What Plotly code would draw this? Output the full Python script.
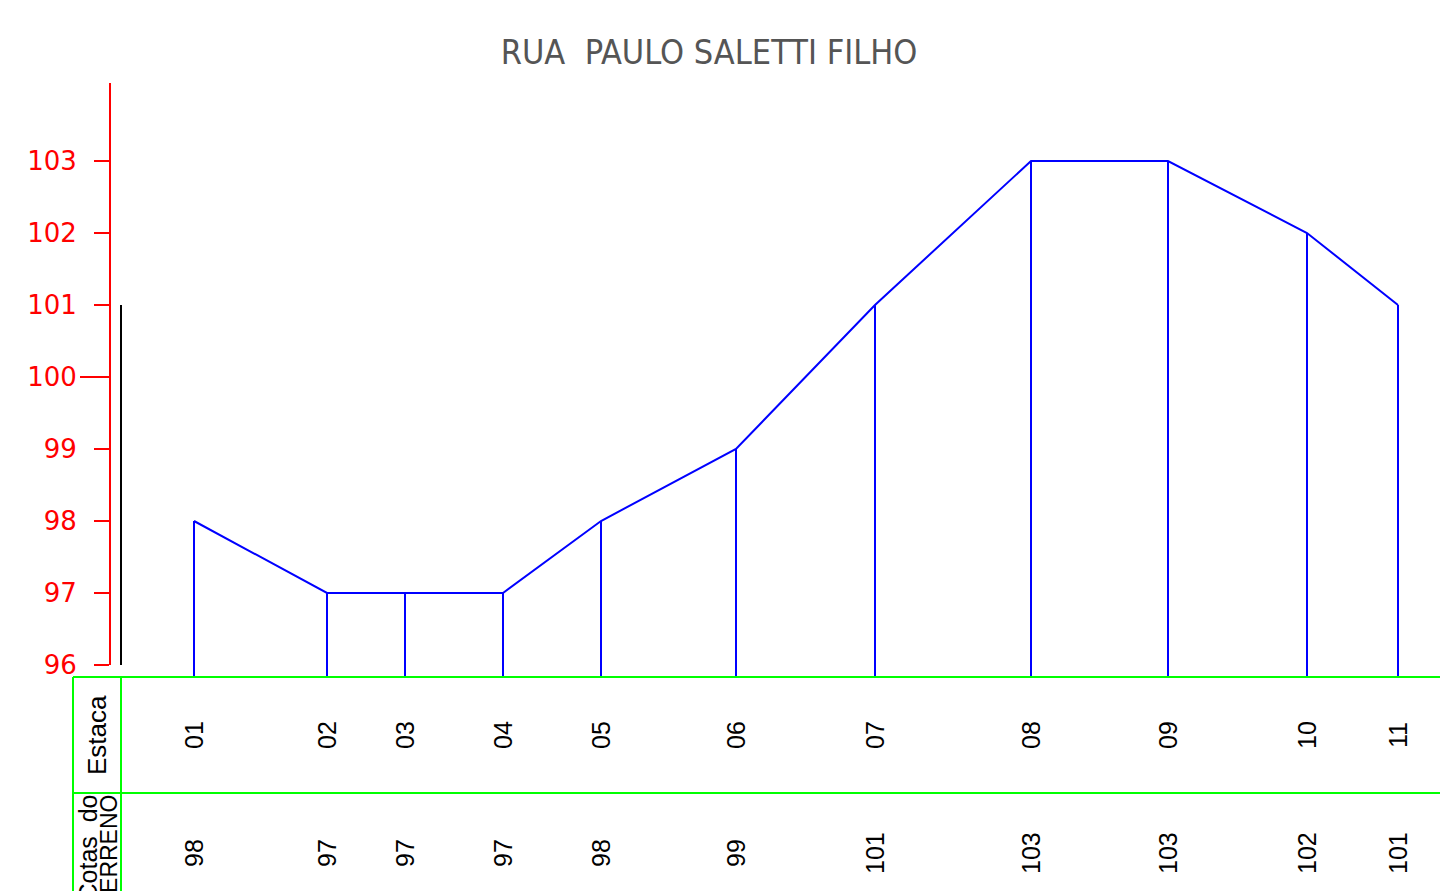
import plotly.graph_objects as go

# ---- data ----
estacas = ["01", "02", "03", "04", "05", "06", "07", "08", "09", "10", "11"]
posicao = [0, 133, 211, 309, 407, 542, 681, 837, 974, 1113, 1204]   # horizontal position along the road (drawing units)
cotas = [98, 97, 97, 97, 98, 99, 101, 103, 103, 102, 101]          # terrain elevation
y_ticks = [96, 97, 98, 99, 100, 101, 102, 103]
titulo = "RUA\u00a0 PAULO SALETTI FILHO"

W, H = 1440, 891
X0 = 194                      # pixel column of station 01
PX_PER_M = 72.0               # vertical scale (px per metre)
Y96 = 665                     # pixel row of elevation 96

def px(x):
    return x / W

def py(y):
    return 1 - y / H

def elev(ypix):
    return 96 + (Y96 - ypix) / PX_PER_M

base = elev(677)              # reference line (top of table)

fig = go.Figure()

# profile line
fig.add_trace(go.Scatter(x=posicao, y=cotas, mode="lines",
                         line=dict(color="#0000ff", width=2), hoverinfo="skip",
                         showlegend=False))
# vertical lines at each station
vx, vy = [], []
for p, c in zip(posicao, cotas):
    vx += [p, p, None]
    vy += [c, base, None]
fig.add_trace(go.Scatter(x=vx, y=vy, mode="lines",
                         line=dict(color="#0000ff", width=2), hoverinfo="skip",
                         showlegend=False))

# black reference bar on the elevation axis
fig.add_trace(go.Scatter(x=[121 - X0, 121 - X0], y=[96, 101], mode="lines",
                         line=dict(color="black", width=2), hoverinfo="skip",
                         showlegend=False, xaxis="x2", yaxis="y2"))

shapes = []
green = "#00ff00"
# table lines
shapes.append(dict(type="line", xref="paper", yref="paper", x0=px(73), x1=1, y0=py(677), y1=py(677),
                   line=dict(color=green, width=2)))
shapes.append(dict(type="line", xref="paper", yref="paper", x0=px(73), x1=1, y0=py(793), y1=py(793),
                   line=dict(color=green, width=2)))
for xx in (73, 121):
    shapes.append(dict(type="line", xref="paper", yref="paper", x0=px(xx), x1=px(xx), y0=py(677), y1=0,
                       line=dict(color=green, width=2)))
# longer tick at 100
shapes.append(dict(type="line", xref="paper", yref="y2", x0=px(80), x1=px(96), y0=100, y1=100,
                   line=dict(color="red", width=2)))

annotations = []
tfont = dict(family="Liberation Sans, Arial, sans-serif", size=25, color="black")
for p, e, c in zip(posicao, estacas, cotas):
    annotations.append(dict(x=p, y=py(735), xref="x", yref="paper", text=e, showarrow=False,
                            textangle=-90, font=tfont, xanchor="center", yanchor="middle"))
    annotations.append(dict(x=p, y=py(853), xref="x", yref="paper", text=str(c), showarrow=False,
                            textangle=-90, font=tfont, xanchor="center", yanchor="middle"))

annotations.append(dict(x=px(97), y=py(735), xref="paper", yref="paper", text="Estaca", showarrow=False,
                        textangle=-90, font=dict(family="Liberation Sans, Arial, sans-serif", size=26, color="black"),
                        xanchor="center", yanchor="middle"))
annotations.append(dict(x=px(87), y=py(793), xref="paper", yref="paper", text="Cotas\u00a0 do", showarrow=False,
                        textangle=-90, font=dict(family="Liberation Sans, Arial, sans-serif", size=25, color="black"),
                        xanchor="center", yanchor="top"))
annotations.append(dict(x=px(109), y=py(793), xref="paper", yref="paper", text="TERRENO", showarrow=False,
                        textangle=-90, font=dict(family="Liberation Sans, Arial, sans-serif", size=23, color="black"),
                        xanchor="center", yanchor="top"))

xr = [0 - X0, W - X0]
fig.update_layout(
    width=W, height=H,
    margin=dict(l=0, r=0, t=0, b=0, autoexpand=False),
    paper_bgcolor="white", plot_bgcolor="rgba(0,0,0,0)",
    title=dict(text=titulo, x=px(709), y=py(52), xanchor="center", yanchor="middle",
               font=dict(family="Liberation Sans Narrow, DejaVu Sans Condensed, Liberation Sans, sans-serif",
                         size=34, color="#555555")),
    xaxis=dict(range=xr, domain=[0, 1], visible=False, fixedrange=True, automargin=False),
    yaxis=dict(range=[elev(H), elev(0)], domain=[0, 1], visible=False, fixedrange=True, automargin=False),
    xaxis2=dict(range=xr, domain=[0, 1], visible=False, anchor="y2", fixedrange=True, automargin=False),
    yaxis2=dict(range=[96, elev(83)], domain=[py(665), py(83)], anchor="free", position=px(110),
                side="left", showline=True, linecolor="red", linewidth=2,
                ticks="outside", ticklen=15, tickwidth=2, tickcolor="red",
                tickvals=y_ticks, ticktext=[str(v) for v in y_ticks],
                tickfont=dict(family="DejaVu Sans, Liberation Sans, sans-serif", size=26, color="red"),
                ticklabelstandoff=12, showgrid=False, zeroline=False, fixedrange=True, automargin=False),
    shapes=shapes,
    annotations=annotations,
    showlegend=False,
)

fig.write_html(
    "out.html", config={"displayModeBar": False},
    post_script=(
        "document.documentElement.style.overflow='hidden';"
        "document.body.style.margin='0';document.body.style.overflow='hidden';"
    ),
)
